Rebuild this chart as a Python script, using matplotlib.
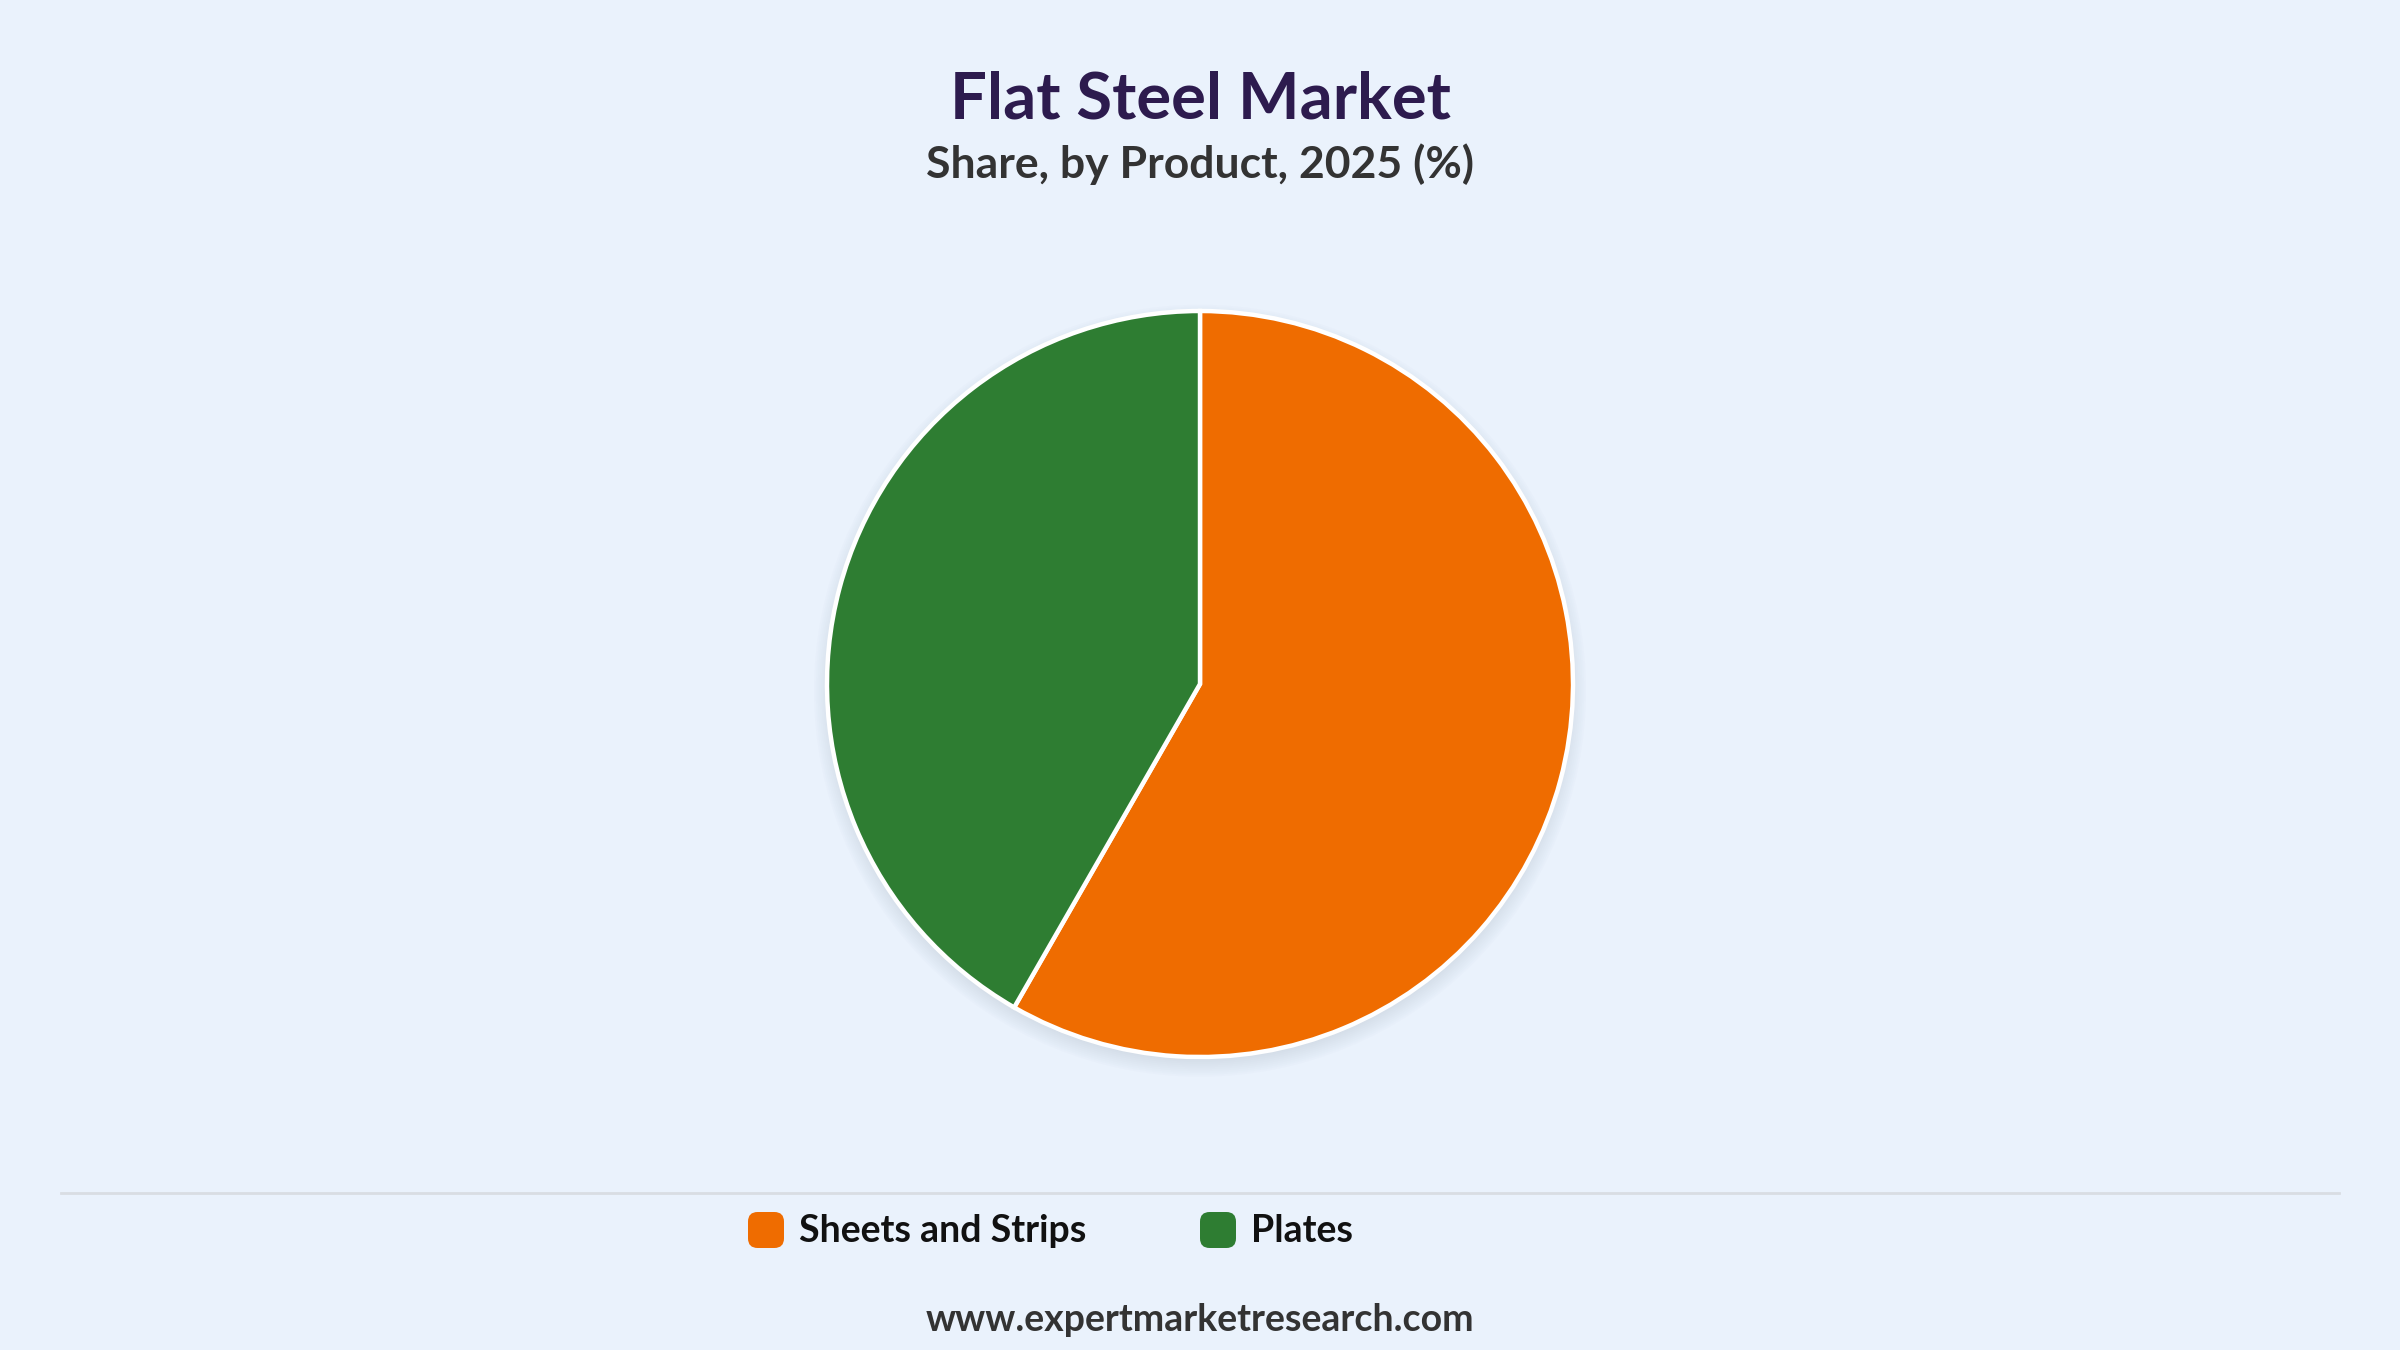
import matplotlib
matplotlib.use("Agg")
import matplotlib.pyplot as plt
from matplotlib.patches import Circle, FancyBboxPatch
from matplotlib.lines import Line2D

# data
labels = ["Sheets and Strips", "Plates"]
shares = [58.3, 41.7]
colors = ["#EF6C00", "#2E7D32"]

title = "Flat Steel Market"
subtitle = "Share, by Product, 2025 (%)"
source = "www.expertmarketresearch.com"

bg = "#EAF2FC"
plt.rcParams['font.family'] = ['Lato', 'DejaVu Sans']

W, H = 2400, 1350
fig = plt.figure(figsize=(24, 13.5), dpi=100, facecolor=bg)

# pie axes, centre (1200, 684) px, radius ~373 px
cx, cy, r = 1200, 684, 373
pad = 1.08
ax = fig.add_axes([(cx - r * pad) / W, (H - cy - r * pad) / H,
                   2 * r * pad / W, 2 * r * pad / H])
ax.set_facecolor(bg)
ax.axis("off")

# soft shadow, mostly below the pie
for i in range(10):
    ax.add_patch(Circle((0.0, -0.018), 0.99 + i * 0.005, color="#8f9bb0",
                        alpha=0.025, lw=0, zorder=0))

ax.pie(shares, colors=colors, startangle=90, counterclock=False, radius=1.0,
       wedgeprops=dict(edgecolor="white", linewidth=3.2))
ax.set_xlim(-pad, pad)
ax.set_ylim(-pad, pad)

# titles
fig.text(0.5, 1 - 100 / H, title, ha="center", va="center", fontsize=47,
         fontweight="bold", color="#2D1B4E")
fig.text(0.5, 1 - 164 / H, subtitle, ha="center", va="center", fontsize=32,
         fontweight="bold", color="#333333")

# separator line
fig.add_artist(Line2D([61 / W, 2339 / W], [1 - 1193 / H, 1 - 1193 / H],
                      color="#D9DDE3", lw=2, transform=fig.transFigure))

# legend
leg_x = [748, 1200]
sq = 36
for x, lab, col in zip(leg_x, labels, colors):
    fig.add_artist(FancyBboxPatch((x / W, (H - 1230 - sq / 2) / H), sq / W, sq / H,
                                  boxstyle="round,pad=0,rounding_size=0.004",
                                  mutation_aspect=W / H,
                                  fc=col, ec="none", transform=fig.transFigure))
    fig.text((x + sq + 15) / W, 1 - 1231 / H, lab, ha="left", va="center",
             fontsize=27, fontweight="bold", color="#111111")

fig.text(0.5, 1 - 1320 / H, source, ha="center", va="center", fontsize=27,
         fontweight="bold", color="#333333")

fig.savefig("out.png", dpi=100, facecolor=bg)
